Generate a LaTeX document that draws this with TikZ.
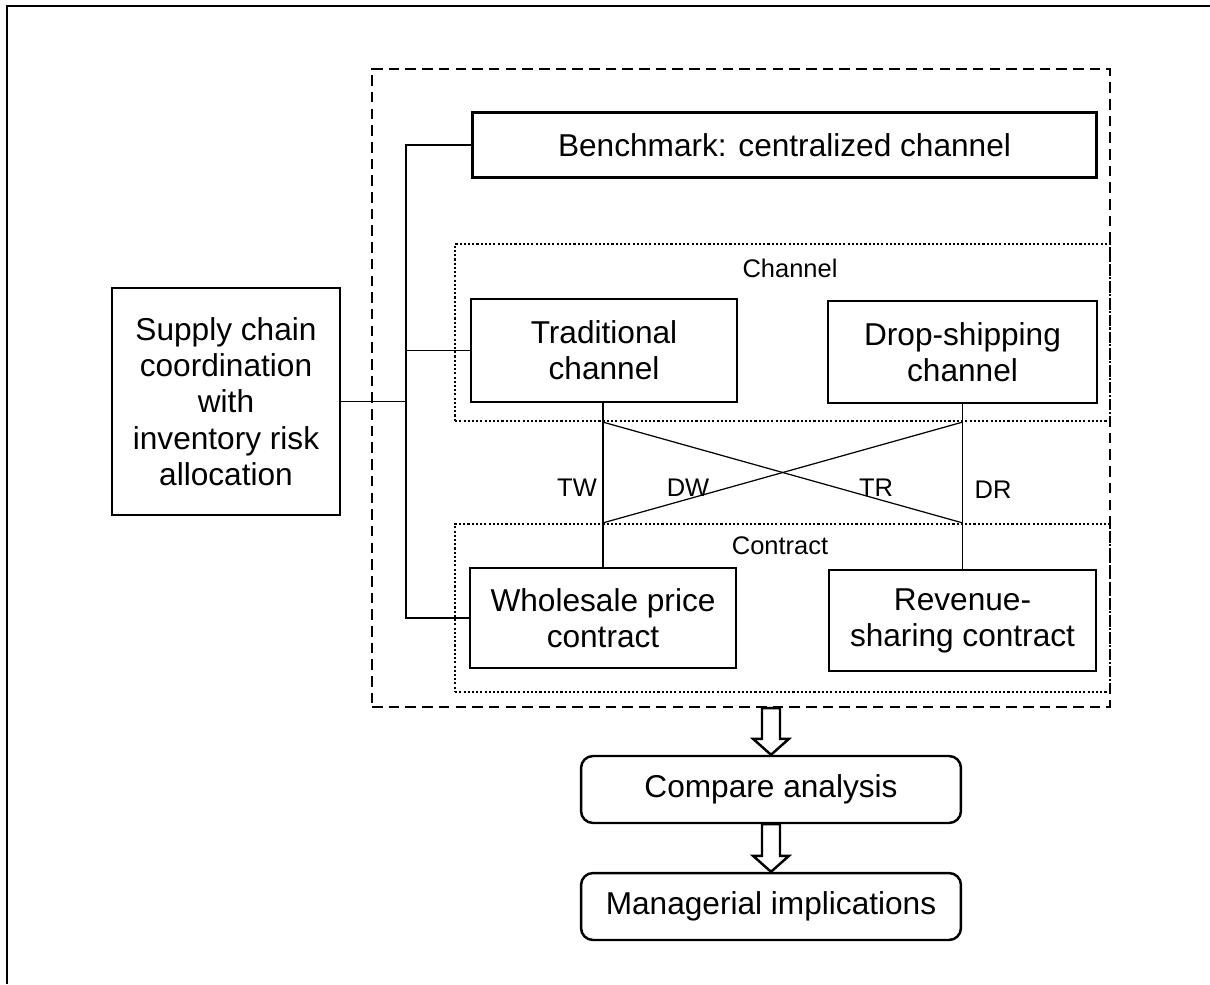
\documentclass[tikz,border=0pt]{standalone}
\usepackage{fontspec}
\setmainfont{Liberation Sans}
\usetikzlibrary{calc}
\tikzset{
    box/.style={draw, line width=1.4pt, align=center, inner sep=0pt, font=\fontsize{18}{20.6}\selectfont},
    roundbox/.style={box, rounded corners=0.24cm},
    groupbox/.style={draw, line width=1.4pt, dash pattern=on 6pt off 3.5pt, inner sep=0pt},
    dotbox/.style={draw, line width=1.3pt, dash pattern=on 1.2pt off 1.2pt, inner sep=0pt},
    link/.style={line width=0.7pt},
    tag/.style={font=\fontsize{14.5}{17}\selectfont},
}
\newcommand{\hollowarrow}[2]{%
    \draw[line width=1.4pt, fill=white] ($(#1)+(-9,0)$) -- ($(#2)+(-9,-16)$) -- ($(#2)+(-18,-16)$)
        -- (#2) -- ($(#2)+(18,-16)$) -- ($(#2)+(9,-16)$) -- ($(#1)+(9,0)$) -- cycle;}
\begin{document}
\begin{tikzpicture}[x=0.02cm, y=-0.02cm]
    %\draw[lightgray] (0, 0) grid[step=50] (1210, 984);
    \useasboundingbox (0, 0) rectangle (1210, 984);
    \draw[line width=1.4pt] (7, 984) -- (7, 6) -- (1210, 6);

    \node[groupbox, minimum width=14.76cm, minimum height=12.76cm] (frame) at (741, 388) {};
    \node[dotbox, minimum width=13.1cm, minimum height=3.54cm] (chanbox) at (782.5, 332.5) {};
    \node[dotbox, minimum width=13.1cm, minimum height=3.36cm] (conbox) at (782.5, 608) {};
    \node[tag] (chanlabel) at (790, 268) {Channel};
    \node[tag] (conlabel) at (780, 546) {Contract};

    \node[box, minimum width=12.48cm, minimum height=1.3cm] (bench) at (784.5, 145) {Benchmark: centralized channel};
    \node[box, minimum width=5.32cm, minimum height=2.06cm] (trad) at (604, 350.5) {Traditional\\channel};
    \node[box, minimum width=5.38cm, minimum height=2.04cm] (drop) at (962.5, 352) {Drop-shipping\\channel};
    \node[box, minimum width=5.32cm, minimum height=2cm] (whole) at (603, 618) {Wholesale price\\contract};
    \node[box, minimum width=5.34cm, minimum height=2.02cm] (rev) at (962.5, 620.5) {Revenue-\\sharing contract};
    \node[box, minimum width=4.56cm, minimum height=4.54cm] (supply) at (226, 401.5)
        {Supply chain\\coordination\\with\\inventory risk\\allocation};
    \node[roundbox, minimum width=7.6cm, minimum height=1.34cm] (compare) at (771, 789.5) {Compare analysis};
    \node[roundbox, minimum width=7.6cm, minimum height=1.34cm] (manage) at (771, 906.5) {Managerial implications};

    \coordinate (trunk) at (406, 401.5);
    \draw[link] (supply.east) -- (trunk);
    \draw[link] (bench.west) -| (trunk) |- (whole.west);
    \draw[link] (trunk |- trad.west) -- (trad.west);

    \draw[link] (trad.south -| whole.north) -- (whole.north);
    \draw[link] (drop.south -| rev.north) -- (rev.north);
    \draw[link] (chanbox.south -| whole.north) -- (conbox.north -| rev.north);
    \draw[link] (chanbox.south -| rev.north) -- (conbox.north -| whole.north);
    \node[tag] (tw) at (577, 488) {TW};
    \node[tag] (dw) at (688, 488) {DW};
    \node[tag] (tr) at (876, 488) {TR};
    \node[tag] (dr) at (993, 490) {DR};

    \hollowarrow{frame.south -| compare.north}{compare.north}
    \hollowarrow{compare.south}{manage.north}
\end{tikzpicture}
\end{document}
